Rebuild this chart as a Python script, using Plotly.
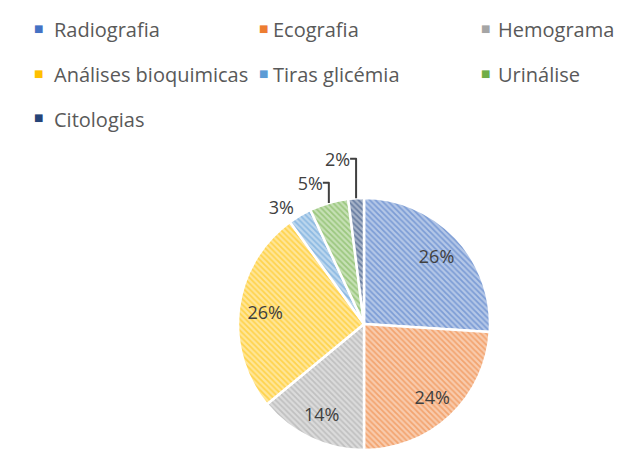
import plotly.graph_objects as go

categories = ["Radiografia", "Ecografia", "Hemograma", "Análises bioquimicas",
              "Tiras glicémia", "Urinálise", "Citologias"]
values = [26, 24, 14, 26, 3, 5, 2]
colors = ["#4472C4", "#ED7D31", "#A5A5A5", "#FFC000", "#5B9BD5", "#70AD47", "#264478"]
tints = ["#B4C7E7", "#F8CBAD", "#DBDBDB", "#FFE699", "#BDD7EE", "#C6E0B5", "#A8B4C9"]
text_positions = ["inside", "inside", "inside", "inside", "outside", "outside", "outside"]

W, H = 626, 455
pie_domain = dict(x=[238 / W, 490 / W], y=[5 / H, 257 / H])

fig = go.Figure()

# visible hatched pie
fig.add_trace(go.Pie(
    labels=categories,
    values=values,
    sort=False,
    direction="clockwise",
    rotation=0,
    textinfo="none",
    marker=dict(
        colors=tints,
        line=dict(color="white", width=2.5),
        pattern=dict(shape="\\", fgcolor=colors, bgcolor=tints,
                     size=4, solidity=0.45, fillmode="overlay"),
    ),
    domain=pie_domain,
    showlegend=False,
    hoverinfo="label+percent",
))

# transparent ring carrying the percentage labels (pushes inside labels outward)
fig.add_trace(go.Pie(
    labels=categories,
    values=values,
    sort=False,
    direction="clockwise",
    rotation=0,
    hole=0.58,
    textinfo="percent",
    texttemplate="%{percent:.0%}",
    textposition=text_positions,
    insidetextorientation="horizontal",
    textfont=dict(family="Open Sans", size=18, color="#404040"),
    marker=dict(colors=["rgba(0,0,0,0)"] * len(values), line=dict(width=0)),
    domain=pie_domain,
    showlegend=False,
    hoverinfo="skip",
))

# legend drawn as text entries in a 3-column grid
col_marker_x = [38, 263, 485]
col_text_x = [52, 271, 496]
row_y = [30, 75, 120]
annotations = []
for i, (name, c) in enumerate(zip(categories, colors)):
    r, k = divmod(i, 3)
    annotations.append(dict(
        x=col_marker_x[k] / W, y=1 - (row_y[r] - 2) / H, xref="paper", yref="paper",
        text="■", showarrow=False, xanchor="center", yanchor="middle",
        font=dict(family="DejaVu Sans", size=10, color=c)))
    annotations.append(dict(
        x=col_text_x[k] / W, y=1 - row_y[r] / H, xref="paper", yref="paper",
        text=name, showarrow=False, xanchor="left", yanchor="middle",
        font=dict(family="Open Sans", size=20, color="#595959")))

fig.update_layout(
    width=W, height=H,
    margin=dict(l=0, r=0, t=0, b=0),
    paper_bgcolor="white",
    plot_bgcolor="white",
    annotations=annotations,
)

fig.write_html("out.html", config={"displayModeBar": False},
               post_script="document.body.style.margin='0';document.body.style.overflow='hidden';")
